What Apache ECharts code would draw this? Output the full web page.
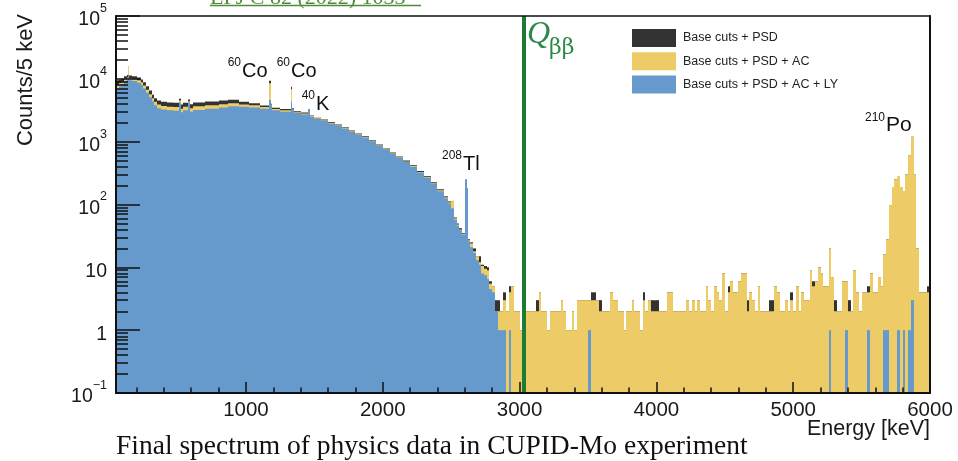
<!DOCTYPE html>
<html>
<head>
<meta charset="utf-8">
<script src="https://cdn.jsdelivr.net/npm/echarts@6/dist/echarts.min.js"></script>
<style>
html,body{margin:0;padding:0;background:#fff;}
#chart{width:958px;height:461px;}
</style>
</head>
<body>
<div id="chart"></div>
<script>
// ---------------- Spectrum data, counts per 5 keV ----------------
// Low-energy part: variable-width bins (keV edges), narrow bins on the gamma lines.
const lowEdges = [50,70,90,110,130,135,145,170,200,230,250,270,290,310,330,350,380,420,470,508,
  523,540,578,593,610,700,800,870,950,1020,1100,1165,1180,1190,1250,1326,1340,1350,1400,1455,
  1468,1500,1550,1600,1650,1700,1750,1800,1850,1900,1950,2000,2050,2100,2150,2200,2250,2300,2350,2400,
  2450,2480,2500,2520,2540,2560,2580,2600,2604,2614,2622,2640];

const lowPSD = [9500,9700,10000,11000,11500,15500,11300,11000,10500,9800,8800,7600,6500,5600,4900,4500,4300,4200,4150,
  4800,3900,4150,4700,3950,4200,4350,4500,4650,4300,4100,3750,9350,4000,3450,3300,7450,3400,3050,2900,
  3300,2600,2400,2250,2050,1880,1700,1500,1350,1220,1060,900,780,670,580,500,420,340,285,225,
  175,135,112,114,62,50,42,35,32,250,180,28];
const lowAC = [8000,8600,9000,10000,10500,15500,10200,10000,9500,8800,7800,6700,5700,4900,4300,3900,3700,3600,3550,
  4500,3350,3600,4400,3400,3650,3800,3950,4100,3900,3800,3550,8500,3900,3300,3150,6800,3300,2950,2800,
  3300,2550,2350,2200,2000,1830,1660,1460,1310,1190,1040,880,760,655,565,485,410,330,277,218,
  168,130,108,114,60,48,40,34,32,250,180,27];
const lowLY = [7000,7600,8300,9200,9700,11500,9500,9200,8700,8000,7000,6000,5100,4400,3800,3400,3250,3150,3100,
  4200,2950,3150,4200,3000,3200,3350,3500,3650,3600,3500,3350,4600,3800,3150,3000,4350,3300,2850,2700,
  3300,2500,2300,2150,1950,1790,1620,1430,1280,1160,1020,860,745,640,555,475,400,322,270,212,
  162,125,104,87,57,46,39,33,31,250,180,26];

// High-energy part: uniform 20 keV bins from 2640 keV to 6000 keV.
const highStart = 2640;
const highWidth = 20;
const highPSD = [
  25,20,15,15,11,10.5,10,6,5,3,
  3,2,4,2,5,5,2,2,1,2,
  2,2,2,2,3,4,2,2,1,2,
  2,2,2,3,2,1,1,2,1,3,
  3,3,3,3,4,4,3,3,2,2,
  2,4,3,3,2,2,1,2,2,3,
  2,2,1,4,2,3,3,3,3,2,
  2,2,4,4,2,2,2,2,2,3,
  2,3,2,3,2,2,5,3,2,5,
  4,3,8,2,5,6,4,4,6,8,
  8,3,4,3,2,5,2,2,2,3,
  3,5,4,2,2,3,2,4,2,5,
  2,4,3,3,9,6,6,10,8,5,
  5,20,7,3,2,2,6,6,3,2,
  9,4,2,4,4,5,8,4,4,7,
  5,16,28,98,190,250,276,190,160,300,
  600,1200,300,20,4,4,4,5];
const highAC = [
  24,18,15,12,10.5,9.5,9,5.5,5,2,
  2,2,3,2,4,5,2,2,1,2,
  2,2,2,2,2,4,2,2,1,2,
  2,2,2,3,2,1,1,2,1,3,
  3,3,3,3,3,3,3,2,2,2,
  2,4,3,3,2,2,1,2,2,3,
  2,2,1,3,2,3,2,2,2,2,
  2,2,4,4,2,2,2,2,2,3,
  2,3,2,3,2,2,5,3,2,5,
  4,3,8,2,4,6,4,4,6,8,
  8,2,4,3,2,5,2,2,2,2,
  2,5,4,2,2,3,2,3,2,5,
  2,4,3,3,9,5,6,10,8,5,
  5,20,7,2,2,2,6,6,2,2,
  9,4,2,4,4,4,8,4,4,7,
  5,16,28,98,190,250,276,190,160,300,
  600,1200,300,20,4,4,4,4];
const highLY = [
  21,17,13,11,8,7.5,6.5,4.5,4,2,
  1,1,1,0,1,0,0,0,0,0,
  0,0,0,0,0,0,0,0,0,0,
  0,0,0,0,0,0,0,0,0,0,
  0,0,0,1,0,0,0,0,0,0,
  0,0,0,0,0,0,0,0,0,0,
  0,0,0,0,0,0,0,0,0,0,
  0,0,0,0,0,0,0,0,0,0,
  0,0,0,0,0,0,0,0,0,0,
  0,0,0,0,0,0,0,0,0,0,
  0,0,0,0,0,0,0,0,0,0,
  0,0,0,0,0,0,0,0,0,0,
  0,0,0,0,0,0,0,0,0,0,
  0,1,0,0,0,0,0,1,0,0,
  0,0,0,0,0,1,0,0,0,0,
  0,1,1,0,0,0,1,0,1,0,
  1,3,0,0,0,0,0,0];

const seriesNames = ['Base cuts + PSD', 'Base cuts + PSD + AC', 'Base cuts + PSD + AC + LY'];
const seriesColors = ['#333333', '#EDCB66', '#6699CC'];

const qbb = 3034;                       // keV
const xRange = [50, 6000];
const yRange = [0.1, 100000];
const xMajorTicks = [1000, 2000, 3000, 4000, 5000, 6000];
const yDecades = [0.1, 1, 10, 100, 1000, 10000, 100000];

// minor tick positions: every 200 keV, and 2..9 within each decade
const xMinorTicks = [];
for (let e = 200; e <= 6000; e += 200) if (e % 1000 !== 0) xMinorTicks.push(e);
const yMinorTicks = [];
for (let d = 0.1; d < 100000; d *= 10) for (let k = 2; k <= 9; k++) yMinorTicks.push(+(d * k).toPrecision(3));

// Turn edges + counts into [lo, hi, count] bins
function toBins(lowCounts, highCounts) {
  const out = [];
  for (let i = 0; i < lowCounts.length; i++) {
    if (lowCounts[i] > 0) out.push([lowEdges[i], lowEdges[i + 1], lowCounts[i]]);
  }
  for (let i = 0; i < highCounts.length; i++) {
    const lo = highStart + i * highWidth;
    if (highCounts[i] > 0) out.push([lo, lo + highWidth, highCounts[i]]);
  }
  return out;
}

const SANS = 'Liberation Sans, Arial, sans-serif';
const SERIF = 'Liberation Serif, Times New Roman, serif';

function histSeries(idx, lowCounts, highCounts) {
  const color = seriesColors[idx];
  return {
    type: 'custom',
    name: seriesNames[idx],
    xAxisIndex: 0,
    yAxisIndex: 0,
    clip: true,
    z: 2 + idx,
    itemStyle: { color: color },
    encode: { x: [0, 1], y: 2 },
    data: toBins(lowCounts, highCounts),
    renderItem: function (params, api) {
      const top = api.coord([api.value(0), api.value(2)]);
      const bot = api.coord([api.value(1), yRange[0]]);
      // snap bin edges to whole pixels so neighbouring bins join without seams
      const x0 = Math.round(top[0]);
      const x1 = Math.max(x0 + 1, Math.round(bot[0]));
      return {
        type: 'rect',
        shape: { x: x0, y: top[1], width: x1 - x0, height: bot[1] - top[1] },
        style: { fill: color }
      };
    }
  };
}

function decadeLabel(v) {
  const e = Math.round(Math.log10(v));
  if (e === 0) return '{b|1}';
  if (e === 1) return '{b|10}';
  return '{b|10}{s|' + (e < 0 ? '\u2212' + (-e) : e) + '}';
}

const chart = echarts.init(document.getElementById('chart'), null, { renderer: 'canvas' });

const axisColor = '#111';
const option = {
  animation: false,
  backgroundColor: '#fff',
  grid: { left: 116, right: 28, top: 16, bottom: 68, containLabel: false },
  legend: {
    orient: 'vertical',
    left: 632, top: 29,
    itemWidth: 44, itemHeight: 18, itemGap: 5.3,
    icon: 'rect',
    padding: 0,
    textStyle: { fontFamily: SANS, fontSize: 12.5, color: '#222', padding: [0, 0, 0, 2] },
    data: seriesNames
  },
  xAxis: [
    {
      type: 'value', min: xRange[0], max: xRange[1], position: 'bottom', z: 10,
      axisLine: { show: true, lineStyle: { color: axisColor, width: 2 } },
      axisTick: { show: true, inside: true, length: 11, customValues: xMajorTicks, lineStyle: { color: axisColor, width: 1.5 } },
      axisLabel: { show: true, customValues: xMajorTicks, margin: 7, fontFamily: SANS, fontSize: 20.5, color: '#1a1a1a',
        formatter: function (v) { return String(Math.round(v)); } },
      splitLine: { show: false }
    },
    {
      type: 'value', min: xRange[0], max: xRange[1], position: 'bottom', z: 10,
      axisLine: { show: false },
      axisTick: { show: true, inside: true, length: 5.5, customValues: xMinorTicks, lineStyle: { color: axisColor, width: 1.5 } },
      axisLabel: { show: false },
      splitLine: { show: false }
    },
    {
      type: 'value', min: xRange[0], max: xRange[1], position: 'top', z: 10,
      axisLine: { show: true, onZero: false, lineStyle: { color: axisColor, width: 1.5 } },
      axisTick: { show: false }, axisLabel: { show: false }, splitLine: { show: false }
    }
  ],
  yAxis: [
    {
      type: 'log', logBase: 10, min: yRange[0], max: yRange[1], position: 'left', z: 10,
      axisLine: { show: true, onZero: false, lineStyle: { color: axisColor, width: 2 } },
      axisTick: { show: true, inside: true, length: 24, customValues: yDecades, lineStyle: { color: axisColor, width: 1.5 } },
      axisLabel: {
        show: true, customValues: yDecades, margin: 9, formatter: decadeLabel,
        rich: {
          b: { fontFamily: SANS, fontSize: 19.5, color: '#1a1a1a', verticalAlign: 'bottom', padding: [8, 0, 0, 0] },
          s: { fontFamily: SANS, fontSize: 12.5, color: '#1a1a1a', verticalAlign: 'top' }
        }
      },
      splitLine: { show: false }
    },
    {
      type: 'log', logBase: 10, min: yRange[0], max: yRange[1], position: 'left', z: 10,
      axisLine: { show: false },
      axisTick: { show: true, inside: true, length: 12, customValues: yMinorTicks, lineStyle: { color: axisColor, width: 1.5 } },
      axisLabel: { show: false },
      splitLine: { show: false }
    },
    {
      type: 'log', logBase: 10, min: yRange[0], max: yRange[1], position: 'right', z: 10,
      axisLine: { show: true, onZero: false, lineStyle: { color: axisColor, width: 2 } },
      axisTick: { show: false }, axisLabel: { show: false }, splitLine: { show: false }
    }
  ],
  series: [
    histSeries(0, lowPSD, highPSD),
    histSeries(1, lowAC, highAC),
    Object.assign(histSeries(2, lowLY, highLY), {
      markLine: {
        silent: true, symbol: 'none', animation: false,
        label: { show: false },
        lineStyle: { color: '#1E7B34', width: 4, type: 'solid' },
        data: [{ xAxis: qbb }]
      }
    })
  ],
  graphic: [
    // journal reference, partly above the page edge
    { type: 'text', left: 210, top: -13, z: 20,
      style: { text: 'EPJ C 82 (2022) 1033', font: '22px ' + SERIF, fill: '#4E8A3A' } },
    { type: 'line', z: 20, shape: { x1: 210, y1: 5.5, x2: 421, y2: 5.5 }, style: { stroke: '#4E8A3A', lineWidth: 1.3 } },

    // axis titles
    { type: 'text', x: 26, y: 80, rotation: Math.PI / 2, z: 20,
      style: { text: 'Counts/5 keV', font: '22px ' + SANS, fill: '#1a1a1a', align: 'center', verticalAlign: 'middle' } },
    { type: 'text', x: 930, y: 429, z: 20,
      style: { text: 'Energy [keV]', font: '21.5px ' + SANS, fill: '#1a1a1a', align: 'right', verticalAlign: 'middle' } },

    // Q-value label
    { type: 'text', x: 527, y: 35, z: 20,
      style: { text: 'Q', font: 'italic 32px ' + SERIF, fill: '#2A8A45', align: 'left', verticalAlign: 'middle' } },
    { type: 'text', x: 549, y: 48, z: 20,
      style: { text: '\u03b2\u03b2', font: '22px DejaVu Serif, serif', fill: '#2A8A45', align: 'left', verticalAlign: 'middle' } },

    // line identifications
    { type: 'text', x: 241, y: 63, z: 20, style: { text: '60', font: '12px ' + SANS, fill: '#111', align: 'right', verticalAlign: 'middle' } },
    { type: 'text', x: 242, y: 71, z: 20, style: { text: 'Co', font: '20px ' + SANS, fill: '#111', align: 'left', verticalAlign: 'middle' } },
    { type: 'text', x: 290, y: 63, z: 20, style: { text: '60', font: '12px ' + SANS, fill: '#111', align: 'right', verticalAlign: 'middle' } },
    { type: 'text', x: 291, y: 71, z: 20, style: { text: 'Co', font: '20px ' + SANS, fill: '#111', align: 'left', verticalAlign: 'middle' } },
    { type: 'text', x: 315, y: 96, z: 20, style: { text: '40', font: '12px ' + SANS, fill: '#111', align: 'right', verticalAlign: 'middle' } },
    { type: 'text', x: 316, y: 104, z: 20, style: { text: 'K', font: '20px ' + SANS, fill: '#111', align: 'left', verticalAlign: 'middle' } },
    { type: 'text', x: 462, y: 156, z: 20, style: { text: '208', font: '12px ' + SANS, fill: '#111', align: 'right', verticalAlign: 'middle' } },
    { type: 'text', x: 463, y: 164, z: 20, style: { text: 'Tl', font: '20px ' + SANS, fill: '#111', align: 'left', verticalAlign: 'middle' } },
    { type: 'text', x: 885, y: 118, z: 20, style: { text: '210', font: '12px ' + SANS, fill: '#111', align: 'right', verticalAlign: 'middle' } },
    { type: 'text', x: 886, y: 125, z: 20, style: { text: 'Po', font: '21px ' + SANS, fill: '#111', align: 'left', verticalAlign: 'middle' } },

    // caption
    { type: 'text', x: 116, y: 447, z: 20,
      style: { text: 'Final spectrum of physics data in CUPID-Mo experiment', font: '27.5px ' + SERIF, fill: '#111', align: 'left', verticalAlign: 'middle' } }
  ]
};

chart.setOption(option);
</script>
</body>
</html>
